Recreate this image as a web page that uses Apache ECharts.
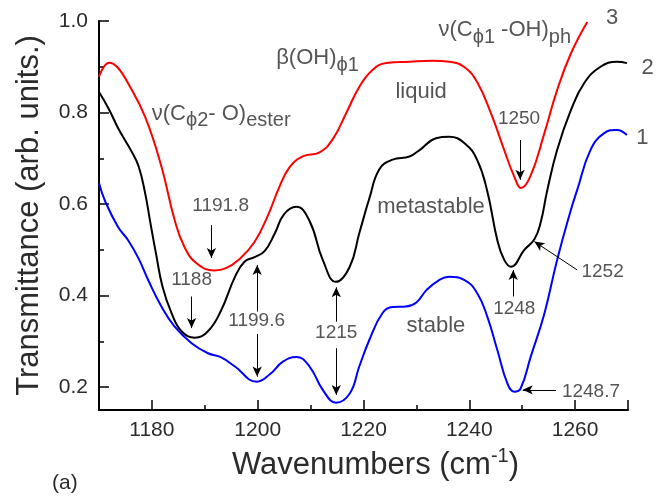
<!DOCTYPE html>
<html><head><meta charset="utf-8">
<script src="https://cdn.jsdelivr.net/npm/echarts@6/dist/echarts.min.js"></script>
<style>html,body{margin:0;padding:0;background:#fff}#c{width:668px;height:496px}</style>
</head><body><div id="c"></div>
<script>
// ---- data (wavenumber cm^-1, transmittance) ----
const liquid = [[1170,0.878],[1171.9,0.909],[1173.5,0.899],[1175.5,0.864],[1178.7,0.791],[1181.8,0.682],[1184.3,0.565],[1186.2,0.505],[1188.5,0.47],[1191.8,0.455],[1194,0.46],[1196.3,0.477],[1199.4,0.517],[1202,0.577],[1204,0.635],[1206,0.68],[1208.5,0.704],[1211.7,0.713],[1214.2,0.742],[1216.7,0.798],[1219.2,0.856],[1221.7,0.893],[1224.3,0.908],[1228.7,0.911],[1233.1,0.913],[1236.2,0.911],[1239.1,0.899],[1241.5,0.866],[1244.1,0.798],[1246.6,0.718],[1248.5,0.66],[1249.8,0.635],[1251.6,0.662],[1254.2,0.755],[1256.6,0.849],[1259.2,0.929],[1262.3,0.998]];
const metastable = [[1170,0.845],[1171.8,0.809],[1173.7,0.764],[1176.2,0.714],[1177.5,0.682],[1178.7,0.625],[1179.7,0.56],[1180.8,0.49],[1182,0.42],[1183.7,0.362],[1185.6,0.322],[1188.1,0.308],[1190.6,0.322],[1193.1,0.368],[1195.7,0.441],[1197.5,0.474],[1199.4,0.484],[1201.3,0.497],[1203.2,0.535],[1205,0.578],[1207.3,0.594],[1209.8,0.563],[1212.3,0.478],[1214.8,0.430],[1217.4,0.463],[1219.2,0.536],[1221.1,0.612],[1223,0.676],[1225.5,0.697],[1228.7,0.704],[1230.6,0.718],[1233.7,0.744],[1236.2,0.747],[1239.1,0.733],[1241.5,0.696],[1243.4,0.628],[1245.3,0.521],[1246.6,0.478],[1247.9,0.463],[1250.4,0.50],[1252.3,0.523],[1253.5,0.56],[1254.7,0.628],[1256.6,0.718],[1259.2,0.805],[1261.7,0.864],[1264.8,0.90],[1267.9,0.911],[1269.8,0.908]];
const stable = [[1170,0.646],[1171.2,0.605],[1173.6,0.55],[1175.5,0.521],[1177.4,0.483],[1179.3,0.434],[1181.8,0.376],[1184.3,0.332],[1187.5,0.296],[1190.6,0.274],[1193.1,0.265],[1195.7,0.245],[1199.8,0.212],[1202.3,0.228],[1204.7,0.255],[1207.3,0.266],[1209.8,0.245],[1212.3,0.194],[1214.8,0.166],[1217.4,0.186],[1219.2,0.245],[1221.1,0.303],[1223.6,0.362],[1225.5,0.375],[1228,0.376],[1230,0.385],[1231.9,0.412],[1234.3,0.434],[1236.2,0.441],[1239.1,0.434],[1241.5,0.405],[1243.4,0.354],[1245.3,0.281],[1247.2,0.208],[1248.5,0.19],[1249.7,0.197],[1251.6,0.266],[1254.2,0.361],[1256.6,0.478],[1259.2,0.587],[1260.4,0.631],[1262.9,0.718],[1265.5,0.755],[1267.9,0.762],[1269.8,0.751]];
const xRange = [1170, 1270];
const yRange = [0.15, 1.0];
const xTitle = 'Wavenumbers (cm';
const xTitleSup = '-1';
const yTitle = 'Transmittance (arb. units.)';
// annotations: text, wavenumber, transmittance
const peakLabels = [['1191.8',1193.0,0.596],['1188',1187.5,0.434],['1199.6',1199.8,0.346],['1215',1214.85,0.319],['1250',1249.4,0.787],['1248',1248.5,0.372],['1252',1265.2,0.452],['1248.7',1263.0,0.19]];
const arrows = [[1191.25,0.554,1191.25,0.482],[1187.5,0.398,1187.5,0.329],[1199.9,0.365,1199.9,0.467],[1199.9,0.316,1199.9,0.223],[1214.85,0.343,1214.85,0.418],[1214.85,0.285,1214.85,0.183],[1249.6,0.74,1249.6,0.653],[1248.3,0.398,1248.3,0.456],[1260.4,0.456,1252.3,0.518],[1256.4,0.194,1250.1,0.194]];
const sampleLabels = [['liquid',1230.9,0.845],['metastable',1232.75,0.594],['stable',1233.7,0.333]];
const curveNumbers = [['3',1267,1.006],['2',1273.7,0.897],['1',1272.7,0.744]];
// band assignments: [main, sub, main, sub]
const bandLabels = [[['ν(C','ϕ2','- O)','ester'],1193.1,0.798],[['β(OH)','ϕ1','',''],1211.3,0.919],[['ν(C','ϕ1',' -OH)','ph'],1246.7,0.98]];

const FONT = '"Liberation Sans", Arial, sans-serif';
const TXT = '#2b2b2b';
const chart = echarts.init(document.getElementById('c'), null, {renderer:'canvas'});

function textSeries(arr, fontSize, extra) {
  return Object.assign({
    type:'scatter', silent:true, clip:false, symbolSize:1,
    itemStyle:{color:'rgba(0,0,0,0)'},
    data: arr.map(d=>({name: Array.isArray(d[0]) ? `{n|${d[0][0]}}{s|${d[0][1]}}` + (d[0][2]?`{n|${d[0][2]}}`:'') + (d[0][3]?`{s|${d[0][3]}}`:'') : d[0], value:[d[1],d[2]]})),
    label:{show:true, position:'inside', formatter:'{b}', fontSize:fontSize, fontFamily:FONT, color:TXT,
      rich:{n:{fontSize:22,fontFamily:FONT,color:TXT}, s:{fontSize:20,fontFamily:FONT,color:TXT,padding:[14,0,0,0]}}},
    emphasis:{disabled:true}, z:5
  }, extra||{});
}

const axisCommon = {
  axisLine:{show:true, onZero:false, lineStyle:{color:'#000', width:2}},
  axisTick:{show:true, inside:true, length:10, lineStyle:{color:'#000', width:1.5}},
  minorTick:{show:true, splitNumber:2, length:5, lineStyle:{color:'#000', width:1.5}},
  splitLine:{show:false},
  axisLabel:{fontSize:21, fontFamily:FONT, color:TXT, showMinLabel:false, showMaxLabel:false},
};

const lineCommon = {type:'line', smooth:0.45, symbol:'none', silent:true, z:3};

chart.setOption({
  animation:false,
  backgroundColor:'#fff',
  grid:{left:99, right:40, top:21, bottom:86, containLabel:false},
  xAxis: Object.assign({}, axisCommon, {
    type:'value', min:xRange[0], max:xRange[1], splitNumber:5,
    axisLabel:Object.assign({}, axisCommon.axisLabel, {margin:10, formatter:v=>String(v)}),
    name:`{n|${xTitle}}{sup|${xTitleSup}}{n|)}`, nameLocation:'middle', nameGap:36,
    nameTextStyle:{fontFamily:FONT, color:TXT, padding:[0,0,0,24], rich:{n:{fontSize:31,fontFamily:FONT,color:TXT}, sup:{fontSize:20,fontFamily:FONT,color:TXT,padding:[0,0,18,0]}}}
  }),
  yAxis: Object.assign({}, axisCommon, {
    type:'value', min:yRange[0], max:yRange[1], splitNumber:4,
    axisLabel:Object.assign({}, axisCommon.axisLabel, {margin:11, showMaxLabel:true, formatter:v=>v.toFixed(1)}),
    name:yTitle, nameLocation:'middle', nameGap:54,
    nameTextStyle:{fontSize:31, fontFamily:FONT, color:TXT}
  }),
  graphic:[{type:'text', left:52, top:473, style:{text:'(a)', fontSize:21, fontFamily:FONT, fill:TXT}}],
  series:[
    Object.assign({}, lineCommon, {name:'stable', data:stable, lineStyle:{color:'#0000ff', width:2}}),
    Object.assign({}, lineCommon, {name:'metastable', data:metastable, lineStyle:{color:'#000', width:2}}),
    Object.assign({}, lineCommon, {name:'liquid', data:liquid, lineStyle:{color:'#ff0000', width:2},
      markLine:{silent:true, symbol:['none','arrow'], symbolSize:[7,10], label:{show:false},
        lineStyle:{color:'#000', width:1, type:'solid'}, emphasis:{disabled:true},
        data: arrows.map(a=>[{coord:[a[0],a[1]]},{coord:[a[2],a[3]]}])}}),
    textSeries(peakLabels, 19),
    textSeries(sampleLabels, 22),
    textSeries(curveNumbers, 22),
    textSeries(bandLabels, 22)
  ]
});
</script></body></html>
